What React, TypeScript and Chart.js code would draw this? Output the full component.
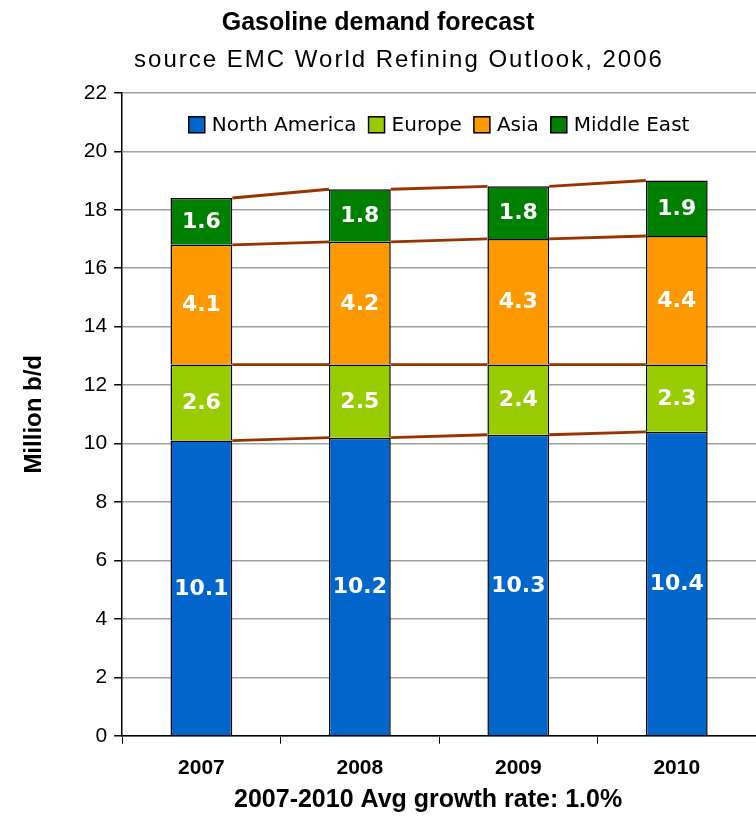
import React, { useEffect, useRef } from "react";
import { Chart, registerables } from "chart.js";

Chart.register(...registerables);

const years = ["2007", "2008", "2009", "2010"];
const northAmerica = [10.1, 10.2, 10.3, 10.4];
const europe = [2.6, 2.5, 2.4, 2.3];
const asia = [4.1, 4.2, 4.3, 4.4];
const middleEast = [1.6, 1.8, 1.8, 1.9];
const seriesNames = ["North America", "Europe", "Asia", "Middle East"];
const seriesColors = ["#0066CC", "#99CC00", "#FF9900", "#008000"];
const yTicksMax = 22;
const yStep = 2;
const titleText = "Gasoline demand forecast";
const subtitleText = "source EMC World Refining Outlook, 2006";
const xTitleText = "2007-2010 Avg growth rate: 1.0%";
const yTitleText = "Million b/d";

const ARIAL = "'Liberation Sans', Arial, sans-serif";
const VERDANA = "'DejaVu Sans', Verdana, sans-serif";

const titleTweakPlugin = {
  id: "titleTweak",
  beforeDraw(chart: any) {
    chart.boxes.forEach((box: any) => {
      if (!box.options || box.__wrapped) return;
      let dx = 0;
      let spacing = "0px";
      if (box.options.text === subtitleText) {
        dx = 11;
        spacing = "2px";
      } else if (box.options.text === titleText) {
        dx = -10;
      } else {
        return;
      }
      const orig = box.draw.bind(box);
      box.draw = (...args: any[]) => {
        const ctx = chart.ctx;
        ctx.save();
        ctx.translate(dx, 0);
        (ctx as any).letterSpacing = spacing;
        orig(...args);
        ctx.restore();
      };
      box.__wrapped = true;
    });
    const xs = chart.scales.x;
    if (xs && !xs.__wrappedTitle) {
      const origT = xs.drawTitle.bind(xs);
      xs.drawTitle = (...args: any[]) => {
        const ctx = chart.ctx;
        ctx.save();
        ctx.translate(-11, 0);
        origT(...args);
        ctx.restore();
      };
      xs.__wrappedTitle = true;
    }
  },
};

const seriesLinesPlugin = {
  id: "seriesLines",
  afterDatasetsDraw(chart: any) {
    const ctx = chart.ctx;
    ctx.save();
    ctx.strokeStyle = "#993300";
    ctx.lineWidth = 2.8;
    chart.data.datasets.forEach((_: any, di: number) => {
      const meta = chart.getDatasetMeta(di);
      for (let j = 0; j < meta.data.length - 1; j++) {
        const a = meta.data[j];
        const b = meta.data[j + 1];
        ctx.beginPath();
        ctx.moveTo(a.x + a.width / 2, a.y);
        ctx.lineTo(b.x - b.width / 2, b.y);
        ctx.stroke();
      }
    });
    ctx.restore();
  },
};

const valueLabelsPlugin = {
  id: "valueLabels",
  afterDatasetsDraw(chart: any) {
    const ctx = chart.ctx;
    ctx.save();
    ctx.fillStyle = "#FFFFFF";
    ctx.font = `bold 22px ${VERDANA}`;
    ctx.textAlign = "center";
    ctx.textBaseline = "middle";
    chart.data.datasets.forEach((ds: any, di: number) => {
      const meta = chart.getDatasetMeta(di);
      meta.data.forEach((el: any, j: number) => {
        const v = ds.data[j];
        ctx.fillText(v.toFixed(1), el.x, (el.y + el.base) / 2 + 1);
      });
    });
    ctx.restore();
  },
};

const innerLegendPlugin = {
  id: "innerLegend",
  afterDatasetsDraw(chart: any) {
    const ctx = chart.ctx;
    const area = chart.chartArea;
    const box = 16;
    const gapText = 7;
    const gapItem = 12;
    ctx.save();
    ctx.font = `20px ${VERDANA}`;
    const items = chart.data.datasets.map((ds: any) => ({
      label: ds.label,
      color: ds.backgroundColor,
      w: box + gapText + ctx.measureText(ds.label).width,
    }));
    const total = items.reduce((s: number, it: any) => s + it.w, 0) + gapItem * (items.length - 1);
    let x = (area.left + area.right) / 2 - total / 2;
    const cy = area.top + 32;
    ctx.textBaseline = "middle";
    ctx.textAlign = "left";
    items.forEach((it: any) => {
      ctx.fillStyle = it.color;
      ctx.fillRect(x, cy - box / 2, box, box);
      ctx.strokeStyle = "#000";
      ctx.lineWidth = 1.5;
      ctx.strokeRect(x, cy - box / 2, box, box);
      ctx.fillStyle = "#000";
      ctx.fillText(it.label, x + box + gapText, cy + 1);
      x += it.w + gapItem;
    });
    ctx.restore();
  },
};

export default function App() {
  const ref = useRef<HTMLCanvasElement>(null);
  useEffect(() => {
    if (!ref.current) return;
    const values = [northAmerica, europe, asia, middleEast];
    const chart = new Chart(ref.current, {
      type: "bar",
      data: {
        labels: years,
        datasets: values.map((d, i) => ({
          label: seriesNames[i],
          data: d,
          backgroundColor: seriesColors[i],
          borderColor: "#000000",
          borderWidth: 1.5,
          barPercentage: 0.39,
          categoryPercentage: 1,
        })),
      },
      options: {
        animation: false,
        responsive: false,
        maintainAspectRatio: false,
        layout: { padding: { left: 20, right: 0, top: 4, bottom: 1 } },
        plugins: {
          title: {
            display: true,
            text: titleText,
            color: "#000",
            font: { family: ARIAL, size: 25, weight: "bold" },
            padding: { top: 4, bottom: 2 },
          },
          subtitle: {
            display: true,
            text: subtitleText,
            color: "#000",
            font: { family: ARIAL, size: 24 },
            padding: { top: 6, bottom: 18 },
          },
          legend: { display: false },
          tooltip: { enabled: false },
        },
        scales: {
          x: {
            stacked: true,
            grid: {
              offset: true,
              drawOnChartArea: false,
              drawTicks: true,
              tickLength: 8,
              color: "#000",
            },
            border: { color: "#000", width: 1.5 },
            ticks: {
              color: "#000",
              font: { family: ARIAL, size: 21, weight: "bold" },
              padding: 12,
            },
            title: {
              display: true,
              text: xTitleText,
              color: "#000",
              font: { family: ARIAL, size: 25, weight: "bold" },
              padding: { top: -8, bottom: 0 },
            },
          },
          y: {
            stacked: true,
            min: 0,
            max: yTicksMax,
            ticks: {
              stepSize: yStep,
              color: "#000",
              font: { family: ARIAL, size: 21 },
              padding: 7,
            },
            grid: {
              color: "#A0A0A0",
              lineWidth: 1.5,
              tickLength: 8,
              tickColor: "#000",
            },
            border: { color: "#000", width: 1.5 },
            title: {
              display: true,
              text: yTitleText,
              color: "#000",
              font: { family: ARIAL, size: 24, weight: "bold" },
              padding: { top: 0, bottom: 28 },
            },
          },
        },
      },
      plugins: [titleTweakPlugin, seriesLinesPlugin, valueLabelsPlugin, innerLegendPlugin],
    });
    return () => chart.destroy();
  }, []);
  return (
    <div style={{ position: "absolute", left: 0, top: 0, width: 756, height: 816, background: "#fff" }}>
      <canvas ref={ref} width={756} height={816} style={{ width: 756, height: 816 }} />
    </div>
  );
}
